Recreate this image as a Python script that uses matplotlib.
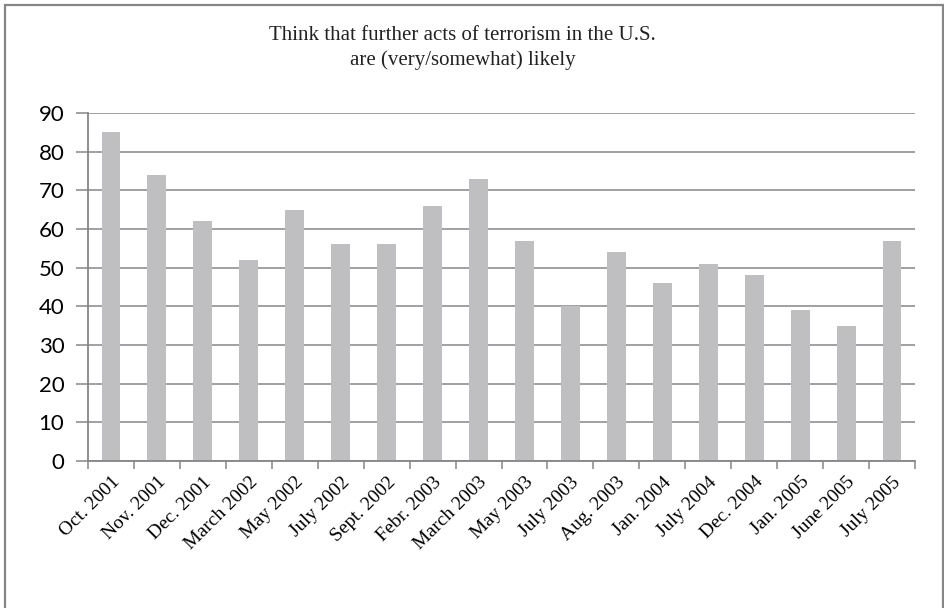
import matplotlib.pyplot as plt
import numpy as np
from matplotlib.patches import Rectangle

months = ['Oct. 2001', 'Nov. 2001', 'Dec. 2001', 'March 2002', 'May 2002',
          'July 2002', 'Sept. 2002', 'Febr. 2003', 'March 2003', 'May 2003',
          'July 2003', 'Aug. 2003', 'Jan. 2004', 'July 2004', 'Dec. 2004',
          'Jan. 2005', 'June 2005', 'July 2005']
likely = [85, 74, 62, 52, 65, 56, 56, 66, 73, 57, 40, 54, 46, 51, 48, 39, 35, 57]

grid_col = '#868686'
bar_col = '#bfbfc1'

fig = plt.figure(figsize=(9.44, 6.08), dpi=100)
ax = fig.add_axes([88/944, 1 - 461/608, (915 - 88)/944, (461 - 113)/608])

x = np.arange(len(months))
ax.bar(x, likely, width=0.41, color=bar_col, zorder=2)

ax.set_xlim(-0.5, len(months) - 0.5)
ax.set_ylim(0, 90)
ax.set_yticks(range(0, 91, 10))
ax.yaxis.grid(True, color=grid_col, linewidth=1.1, zorder=1)
ax.set_axisbelow(True)

# tick marks sit on the category boundaries, labels on the bar centres
ax.set_xticks(np.arange(-0.5, len(months)), minor=False)
ax.set_xticklabels([])
ax.set_xticks(x, minor=True)
ax.set_xticklabels(months, minor=True, rotation=45, ha='right',
                   rotation_mode='anchor', family='Liberation Serif', fontsize=14)
ax.tick_params(axis='x', which='major', length=6, width=1.1, color=grid_col, direction='out')
ax.tick_params(axis='x', which='minor', length=0, pad=9)
ax.tick_params(axis='y', length=9, width=1.1, color=grid_col, direction='out', pad=8)
for lbl in ax.get_yticklabels():
    lbl.set_family('Lato')
    lbl.set_fontsize(16)

for side in ['top', 'right']:
    ax.spines[side].set_visible(False)
for side in ['left', 'bottom']:
    ax.spines[side].set_color(grid_col)
    ax.spines[side].set_linewidth(1.3)

fig.text(0.49, 1 - 48/608, 'Think that further acts of terrorism in the U.S.\nare (very/somewhat) likely',
         ha='center', va='center', family='Liberation Serif', fontsize=15,
         linespacing=1.3, color='#222222')

# outer frame around the chart area
fig.patches.append(Rectangle((5/944, -0.05), (943 - 5)/944, 1.05 - 5/608,
                             transform=fig.transFigure, fill=False,
                             edgecolor=grid_col, linewidth=1.6))

fig.savefig('out.png', dpi=100)
